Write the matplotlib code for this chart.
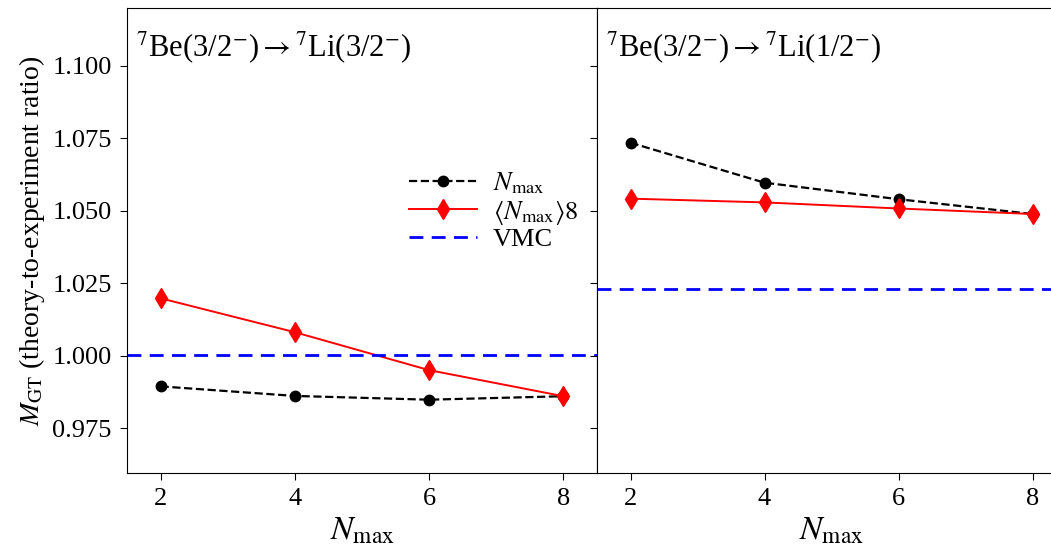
import numpy as np
import matplotlib.pyplot as plt

plt.rcParams['font.family'] = ['Liberation Serif', 'DejaVu Serif']
plt.rcParams['mathtext.fontset'] = 'stix'

nmax = [2, 4, 6, 8]

# 7Be(3/2-) -> 7Li(3/2-)
gs_nmax = [0.9894, 0.9861, 0.9848, 0.9860]
gs_extrap = [1.0198, 1.0081, 0.9950, 0.9860]
gs_vmc = 1.0002

# 7Be(3/2-) -> 7Li(1/2-)
ex_nmax = [1.0735, 1.0597, 1.0540, 1.0489]
ex_extrap = [1.0542, 1.0529, 1.0508, 1.0489]
ex_vmc = 1.0229

titles = [r'$^7$Be(3/2$^{-}$)$\rightarrow$$^7$Li(3/2$^{-}$)',
          r'$^7$Be(3/2$^{-}$)$\rightarrow$$^7$Li(1/2$^{-}$)']

fig = plt.figure(figsize=(10.51, 5.5), dpi=100)
ax1 = fig.add_axes([127/1051, 77/550, 470/1051, 465/550])
ax2 = fig.add_axes([597/1051, 77/550, 469/1051, 465/550], sharey=ax1)

for ax, yn, ye, vmc, t in [(ax1, gs_nmax, gs_extrap, gs_vmc, titles[0]),
                           (ax2, ex_nmax, ex_extrap, ex_vmc, titles[1])]:
    ax.plot(nmax, yn, ls='--', c='black', marker='o', ms=7.5, lw=1.6,
            label=r'$N_{\max}$')
    ax.plot(nmax, ye, ls='-', c='red', marker='d', ms=10, lw=1.4,
            label=r'$\langle N_{\max}\rangle 8$')
    ax.axhline(vmc, ls=(0, (5, 3)), c='blue', lw=2, label='VMC')
    ax.set_xlim(1.5, 8.5)
    ax.set_xticks(nmax)
    ax.tick_params(labelsize=19, length=5, pad=6)
    ax.set_xlabel(r'$N_{\max}$', fontsize=24, labelpad=4)
    ax.text(0.02, 0.915, t, transform=ax.transAxes, fontsize=22, va='center')

ax1.set_ylim(0.9595, 1.12)
ax1.set_yticks([0.975, 1.000, 1.025, 1.050, 1.075, 1.100])
ax1.set_yticklabels(['0.975', '1.000', '1.025', '1.050', '1.075', '1.100'])
ax1.set_ylabel(r'$M_{\rm GT}$ (theory-to-experiment ratio)', fontsize=20,
               labelpad=4)
plt.setp(ax2.get_yticklabels(), visible=False)

ax1.legend(loc='upper left', bbox_to_anchor=(0.56, 0.69), frameon=False,
           fontsize=19, handlelength=2.6, labelspacing=0.05, borderpad=0.2,
           handletextpad=0.6)

plt.savefig('out.png', dpi=100)
